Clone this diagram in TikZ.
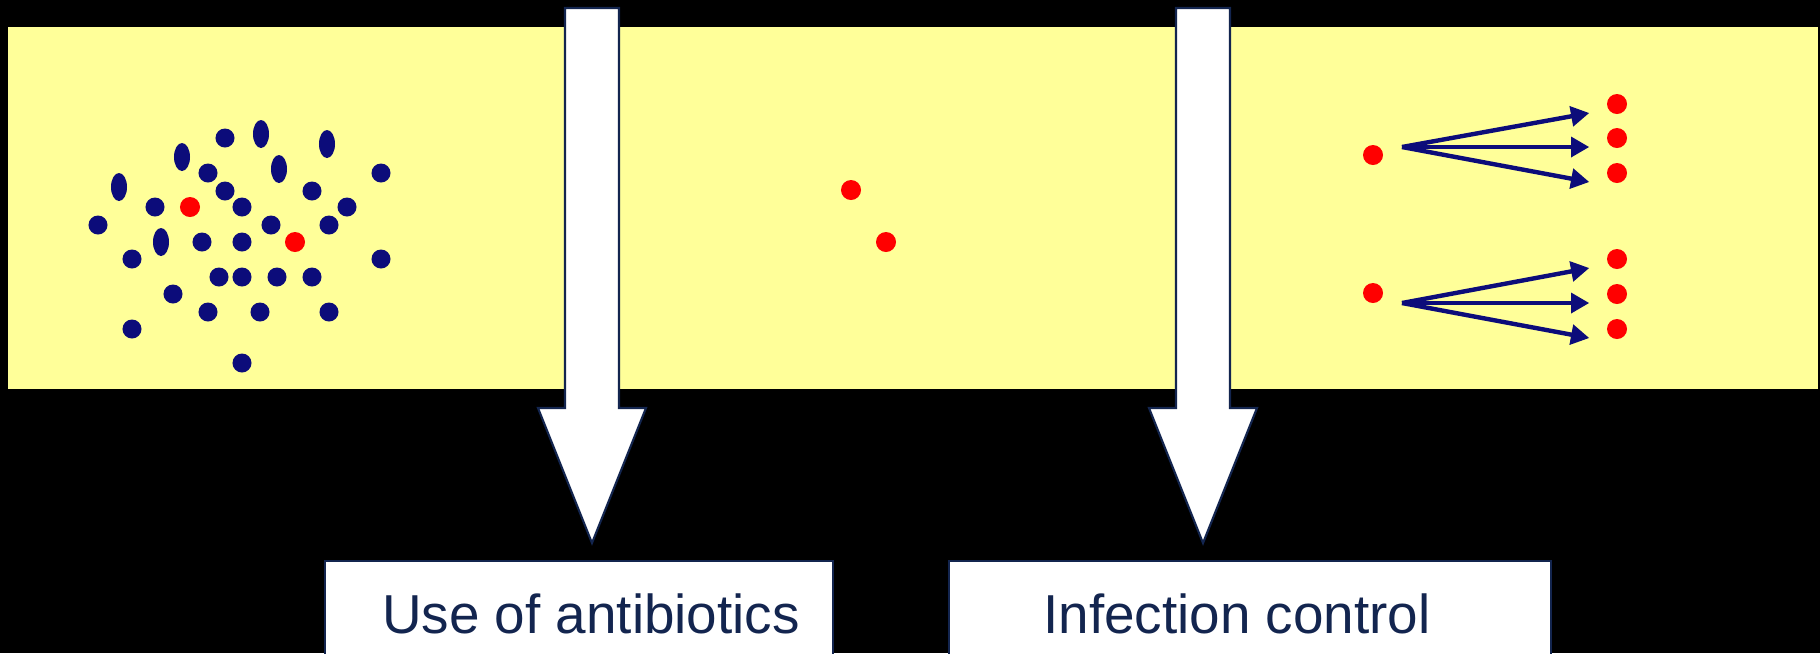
\documentclass[tikz,border=0pt]{standalone}
\usepackage{fontspec}
\setmainfont{Liberation Sans}
\usetikzlibrary{arrows.meta,shapes.geometric}
\definecolor{ink}{HTML}{13254F}
\definecolor{germ}{HTML}{0C0C7A}
\definecolor{resist}{HTML}{FF0000}
\definecolor{dishfill}{HTML}{FFFF99}

\begin{document}
\begin{tikzpicture}[
  x=0.01cm, y=-0.01cm,
  font=\fontsize{15.6pt}{18pt}\selectfont,
  text=ink,
  band/.style={
    fill=dishfill,
    inner sep=0pt,
    minimum width=18.08cm,
    minimum height=3.62cm
  },
  bug/.style={circle, fill=germ, inner sep=0pt, minimum size=0.19cm},
  longbug/.style={ellipse, fill=germ, inner sep=0pt, minimum width=0.16cm, minimum height=0.28cm},
  rbug/.style={circle, fill=resist, inner sep=0pt, minimum size=0.2cm},
  spread/.style={-{Triangle[length=5.2pt,width=5.6pt]}, line width=1.25pt, draw=germ},
  bigarrow/.style={draw=ink, line width=0.6pt, fill=white, line join=miter},
  action/.style={
    draw=ink,
    line width=0.6pt,
    fill=white,
    anchor=north,
    inner sep=0pt,
    minimum height=1.05cm
  }
]

\fill[black] (0,0) rectangle (1820,653);
\clip (0,0) rectangle (1820,653);

\node[band] (dish) at (913,208) {};

% left panel: mixed population
\node[longbug] (g1) at (182,157) {};
\node[longbug] (g2) at (261,134) {};
\node[longbug] (g3) at (327,144) {};
\node[longbug] (g4) at (119,187) {};
\node[longbug] (g5) at (279,169) {};
\node[longbug] (g6) at (161,242) {};
\node[bug] (g7) at (225,138) {};
\node[bug] (g8) at (208,173) {};
\node[bug] (g9) at (381,173) {};
\node[bug] (g10) at (225,191) {};
\node[bug] (g11) at (312,191) {};
\node[bug] (g12) at (155,207) {};
\node[bug] (g13) at (242,207) {};
\node[bug] (g14) at (347,207) {};
\node[bug] (g15) at (98,225) {};
\node[bug] (g16) at (271,225) {};
\node[bug] (g17) at (329,225) {};
\node[bug] (g18) at (202,242) {};
\node[bug] (g19) at (242,242) {};
\node[bug] (g20) at (132,259) {};
\node[bug] (g21) at (381,259) {};
\node[bug] (g22) at (219,277) {};
\node[bug] (g23) at (242,277) {};
\node[bug] (g24) at (277,277) {};
\node[bug] (g25) at (312,277) {};
\node[bug] (g26) at (173,294) {};
\node[bug] (g27) at (208,312) {};
\node[bug] (g28) at (260,312) {};
\node[bug] (g29) at (329,312) {};
\node[bug] (g30) at (132,329) {};
\node[bug] (g31) at (242,363) {};
\node[rbug] (r1) at (190,207) {};
\node[rbug] (r2) at (295,242) {};

% middle panel: survivors
\node[rbug] (m1) at (851,190) {};
\node[rbug] (m2) at (886,242) {};

% right panel: spread
\node[rbug] (sA) at (1373,155) {};
\node[rbug] (sB) at (1373,293) {};
\node[rbug] (tA1) at (1617,104) {};
\node[rbug] (tA2) at (1617,138) {};
\node[rbug] (tA3) at (1617,173) {};
\node[rbug] (tB1) at (1617,259) {};
\node[rbug] (tB2) at (1617,294) {};
\node[rbug] (tB3) at (1617,329) {};

\coordinate (fanA) at ([shift={(29,-8)}]sA);
\coordinate (fanB) at ([shift={(29,10)}]sB);

\draw[spread] (fanA) -- ([shift={(-17,9)}]tA1.west);
\draw[spread] (fanA) -- ([shift={(-17,9)}]tA2.west);
\draw[spread] (fanA) -- ([shift={(-17,9)}]tA3.west);
\draw[spread] (fanB) -- ([shift={(-17,9)}]tB1.west);
\draw[spread] (fanB) -- ([shift={(-17,9)}]tB2.west);
\draw[spread] (fanB) -- ([shift={(-17,9)}]tB3.west);

% measures
\node[action, minimum width=5.08cm] (abx) at (579,560) {\hspace*{0.24cm}Use of antibiotics};
\node[action, minimum width=6.01cm] (ctl) at (1250,560) {Infection control\hspace*{0.26cm}};

\coordinate (abxtip) at ([shift={(13,-17)}]abx.north);
\coordinate (ctltip) at ([shift={(-47,-17)}]ctl.north);

\draw[bigarrow] (abxtip) -- ++(-54,-135) -- ++(27,0) -- ++(0,-400) -- ++(54,0) -- ++(0,400) -- ++(27,0) -- cycle;
\draw[bigarrow] (ctltip) -- ++(-54,-135) -- ++(27,0) -- ++(0,-400) -- ++(54,0) -- ++(0,400) -- ++(27,0) -- cycle;

\end{tikzpicture}
\end{document}
